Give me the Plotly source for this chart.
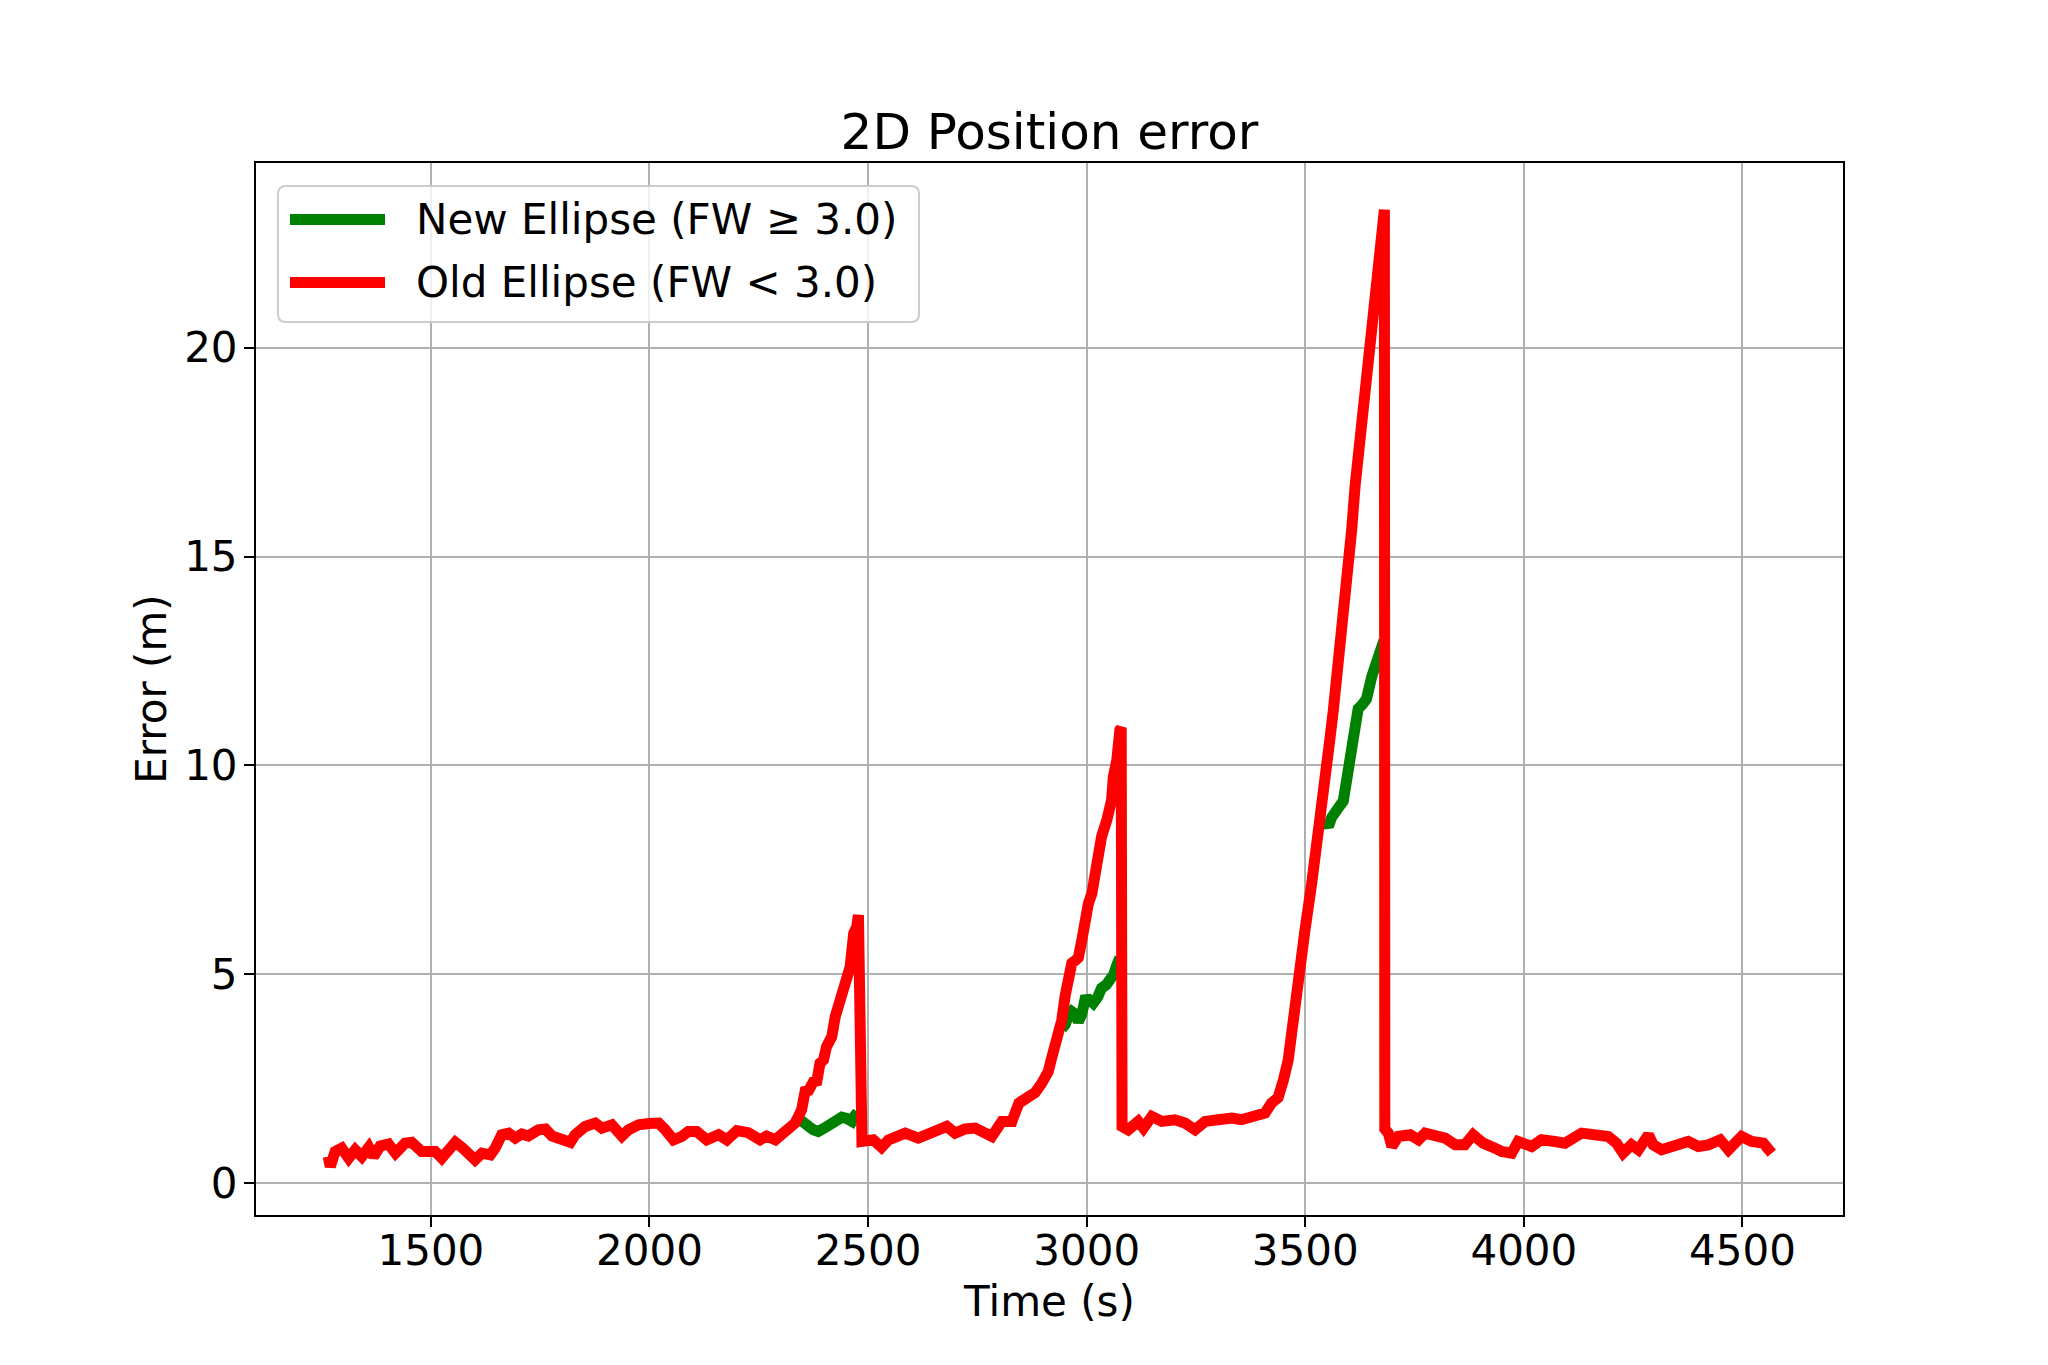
import plotly.graph_objects as go

# ---- Data ----
old_t = [1265, 1270, 1281, 1296, 1312, 1327, 1342, 1358, 1369, 1384, 1403, 1419, 1441, 1456, 1479,
         1510, 1525, 1540, 1556, 1571, 1586, 1601, 1617, 1636, 1647, 1662, 1678, 1693, 1708, 1723,
         1746, 1762, 1777, 1800, 1819, 1830, 1853, 1876, 1891, 1914, 1937, 1952, 1975, 1998, 2021,
         2036, 2055, 2074, 2089, 2108, 2131, 2158, 2177, 2200, 2226, 2253, 2268, 2288, 2310, 2333,
         2341, 2348, 2356, 2364, 2375, 2383, 2390, 2398, 2405, 2417, 2425, 2440, 2451, 2459, 2467,
         2474, 2478,
         2480, 2486, 2512, 2531, 2547, 2585, 2615, 2638, 2661, 2680, 2699, 2722, 2745, 2760, 2783,
         2806, 2829, 2845, 2867, 2882, 2897, 2912, 2920, 2935, 2943, 2951, 2958, 2966, 2975, 2981,
         2989, 2996, 3004, 3012, 3023, 3034, 3046, 3057, 3061, 3069, 3076, 3079,
         3081, 3095, 3118, 3130, 3149, 3172, 3202, 3225, 3248, 3271, 3301, 3332, 3354, 3385, 3408,
         3423, 3438, 3450, 3461, 3469, 3477, 3484, 3492, 3499, 3515, 3530, 3541, 3549, 3556, 3564,
         3575, 3587, 3595, 3606, 3614, 3621, 3629, 3640, 3652, 3663, 3671, 3678, 3681,
         3682, 3690, 3698, 3713, 3740, 3759, 3774, 3797, 3820, 3843, 3865, 3884, 3907, 3934, 3949,
         3972, 3987, 4018, 4040, 4071, 4094, 4132, 4162, 4193, 4212, 4227, 4246, 4262, 4285, 4296,
         4315, 4346, 4376, 4399, 4422, 4449, 4468, 4498, 4521, 4548, 4559, 4567]
old_err = [0.64, 0.40, 0.76, 0.84, 0.60, 0.80, 0.64, 0.86, 0.64, 0.89, 0.94, 0.72, 0.96, 0.98, 0.76,
           0.76, 0.60, 0.80, 0.98, 0.86, 0.72, 0.56, 0.72, 0.68, 0.84, 1.16, 1.20, 1.08, 1.18, 1.13,
           1.28, 1.30, 1.13, 1.08, 0.98, 1.16, 1.36, 1.44, 1.32, 1.40, 1.13, 1.28, 1.40, 1.43, 1.44,
           1.28, 1.04, 1.12, 1.24, 1.24, 1.04, 1.16, 1.04, 1.26, 1.21, 1.04, 1.13, 1.04, 1.20, 1.44,
           1.60, 1.76, 2.20, 2.22, 2.43, 2.45, 2.87, 2.95, 3.27, 3.51, 3.99, 4.47, 4.79, 5.18, 5.98,
           6.14, 6.42,
           1.04, 1.00, 1.04, 0.86, 1.04, 1.20, 1.08, 1.18, 1.24, 1.36, 1.20, 1.30, 1.32, 1.26, 1.12,
           1.48, 1.48, 1.92, 2.09, 2.17, 2.39, 2.67, 3.00, 3.55, 3.90, 4.50, 5.03, 5.27, 5.34, 5.40,
           5.82, 6.46, 6.70, 6.94, 7.66, 8.29, 8.69, 9.17, 9.73, 10.13, 10.85, 10.90,
           1.36, 1.28, 1.48, 1.32, 1.60, 1.48, 1.52, 1.44, 1.28, 1.48, 1.52, 1.56, 1.52, 1.64, 1.68,
           1.92, 2.05, 2.47, 2.95, 3.60, 4.15, 4.78, 5.30, 6.03, 7.20, 8.29, 9.25, 10.00, 10.60, 11.30,
           12.30, 13.32, 14.55, 15.62, 16.69, 17.45, 18.21, 19.44, 20.50, 21.72, 22.48, 23.24, 23.30,
           1.30, 1.20, 0.88, 1.12, 1.16, 1.04, 1.20, 1.16, 1.08, 0.92, 0.92, 1.16, 0.96, 0.84, 0.76,
           0.72, 1.00, 0.88, 1.04, 1.00, 0.96, 1.20, 1.16, 1.12, 0.96, 0.72, 0.92, 0.80, 1.16, 0.92,
           0.80, 0.92, 1.00, 0.88, 0.92, 1.04, 0.80, 1.12, 1.00, 0.96, 0.80, 0.72]

# New ellipse segments (where it differs from the old one; elsewhere hidden beneath red)
new_t = [2341, 2350, 2356, 2364, 2375, 2386, 2400, 2417, 2425, 2440, 2451, 2463, 2470, 2476, None,
         2943, 2951, 2958, 2966, 2974, 2981, 2989, 2996, 3005, 3015, 3025, 3034, 3045, 3053, 3062,
         3069, 3076, None,
         3549, 3553, 3560, 3568, 3580, 3587, 3593, 3598, 3606, 3614, 3621, 3630, 3640, 3652, 3660,
         3667, 3675, 3680]
new_err = [1.55, 1.50, 1.45, 1.36, 1.28, 1.24, 1.32, 1.44, 1.52, 1.58, 1.55, 1.48, 1.62, 1.70, None,
           3.70, 3.80, 4.00, 4.11, 4.05, 3.87, 4.05, 4.39, 4.40, 4.31, 4.45, 4.67, 4.75, 4.83, 5.00,
           5.22, 5.40, None,
           8.60, 8.54, 8.75, 8.92, 9.05, 9.15, 9.50, 9.99, 10.40, 10.75, 11.36, 11.45, 11.59, 12.12, 12.40,
           12.73, 12.90, 13.00]

series_names = ["New Ellipse (FW ≥ 3.0)", "Old Ellipse (FW < 3.0)"]
series_colors = ["green", "red"]

x_ticks = [1500, 2000, 2500, 3000, 3500, 4000, 4500]
y_ticks = [0, 5, 10, 15, 20]

FONT = "DejaVu Sans"
LW = 11

fig = go.Figure()
fig.add_trace(go.Scatter(x=new_t, y=new_err, mode="lines", name=series_names[0],
                         line=dict(color=series_colors[0], width=LW), connectgaps=False))
fig.add_trace(go.Scatter(x=old_t, y=old_err, mode="lines", name=series_names[1],
                         line=dict(color=series_colors[1], width=LW)))

axis_common = dict(showline=True, linecolor="black", linewidth=2, mirror=True,
                   ticks="outside", ticklen=10, tickwidth=2, tickcolor="black",
                   showgrid=True, gridcolor="#b0b0b0", gridwidth=2, zeroline=False,
                   tickfont=dict(family=FONT, size=42, color="black"))

# ---- matplotlib-style legend box (drawn in paper coordinates) ----
W, H = 1587.0, 1052.0          # plot area size in px
L0, T0 = 256.0, 163.0          # plot area left/top in px
def px(X):
    return (X - L0) / W
def py(Y):
    return 1 - (Y - T0) / H

bx0, bx1, by0, by1 = px(278), px(919), py(186), py(322)
rx, ry = 8 / W, 8 / H
box_path = (f"M {bx0 + rx},{by0} L {bx1 - rx},{by0} Q {bx1},{by0} {bx1},{by0 - ry} "
            f"L {bx1},{by1 + ry} Q {bx1},{by1} {bx1 - rx},{by1} "
            f"L {bx0 + rx},{by1} Q {bx0},{by1} {bx0},{by1 + ry} "
            f"L {bx0},{by0 - ry} Q {bx0},{by0} {bx0 + rx},{by0} Z")
shapes = [dict(type="path", xref="paper", yref="paper", path=box_path,
               fillcolor="rgba(255,255,255,0.8)", line=dict(color="#cccccc", width=2), layer="above")]
annotations = []
for i, (nm, col) in enumerate(zip(series_names, series_colors)):
    yy = py(219.5 + i * 63)
    shapes.append(dict(type="line", xref="paper", yref="paper", x0=px(290), x1=px(385), y0=yy, y1=yy,
                       line=dict(color=col, width=LW), layer="above"))
    annotations.append(dict(text=nm, xref="paper", yref="paper", x=px(414), y=yy,
                            xanchor="left", yanchor="middle", showarrow=False,
                            font=dict(family=FONT, size=42, color="black")))

fig.update_layout(
    width=2048, height=1365,
    paper_bgcolor="white", plot_bgcolor="white",
    margin=dict(l=256, r=205, t=163, b=150),
    font=dict(family=FONT, color="black"),
    title=dict(text="2D Position error", x=0.5, xanchor="center", xref="paper",
               y=1 - 131 / 1365, yanchor="middle", yref="container",
               font=dict(family=FONT, size=50, color="black")),
    xaxis=dict(range=[1100, 4730], tickvals=x_ticks, ticktext=[str(v) for v in x_ticks],
               ticklabelstandoff=-12,
               title=dict(text="Time (s)", font=dict(family=FONT, size=42, color="black"), standoff=12),
               **axis_common),
    yaxis=dict(range=[-0.76, 24.42], tickvals=y_ticks, ticktext=[str(v) for v in y_ticks],
               ticklabelstandoff=-2,
               title=dict(text="Error (m)", font=dict(family=FONT, size=42, color="black"), standoff=4),
               **axis_common),
    shapes=shapes,
    annotations=annotations,
    showlegend=False,
)

fig.write_html("out.html")
